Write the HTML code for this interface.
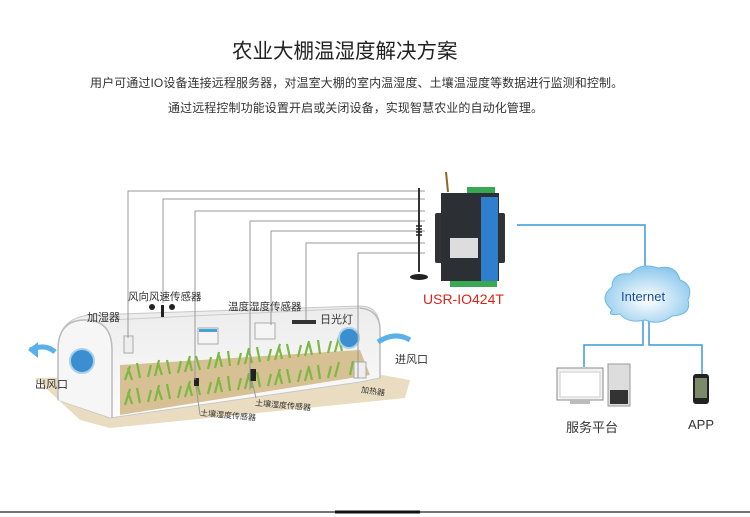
<!DOCTYPE html>
<html><head><meta charset="utf-8"><style>
html,body{margin:0;padding:0;background:#fff;}
body{width:750px;height:517px;overflow:hidden;position:relative;font-family:"Liberation Sans","Noto Sans CJK SC",sans-serif;}
.t{position:absolute;white-space:nowrap;color:#333;}
</style></head><body>
<div class="t" style="left:232px;top:34px;font-size:20.5px;color:#222;">农业大棚温湿度解决方案</div>
<div class="t" style="left:90px;top:74px;font-size:12px;letter-spacing:0.1px;">用户可通过IO设备连接远程服务器，对温室大棚的室内温湿度、土壤温湿度等数据进行监测和控制。</div>
<div class="t" style="left:168px;top:99px;font-size:12px;letter-spacing:0.1px;">通过远程控制功能设置开启或关闭设备，实现智慧农业的自动化管理。</div>

<svg width="750" height="517" style="position:absolute;left:0;top:0" xmlns="http://www.w3.org/2000/svg">
<defs>
<radialGradient id="cl" cx="50%" cy="60%" r="60%"><stop offset="0" stop-color="#fff"/><stop offset="1" stop-color="#8cc8ec"/></radialGradient>
<linearGradient id="gh" x1="0" y1="0" x2="0" y2="1"><stop offset="0" stop-color="#ececec"/><stop offset="1" stop-color="#fcfcfc"/></linearGradient>
</defs>
<!-- ground -->
<polygon points="35,378 355,370 410,380 405,398 110,428 80,420" fill="#eadcc0"/>
<!-- greenhouse -->
<path d="M58,400 L58,350 Q58,318 90,315 L360,306 Q380,306 380,330 L380,378 L360,382 L110,418 Z" fill="url(#gh)" stroke="#c8c8c8"/>
<path d="M58,400 L58,350 Q58,320 85,320 Q112,320 112,350 L112,418" fill="#f6f6f6" stroke="#bbb" stroke-width="1.5"/>
<path d="M110,320 L360,308" stroke="#ccc" fill="none"/>
<path d="M360,308 Q380,310 380,330 L380,378" fill="none" stroke="#bbb" stroke-width="1.5"/>
<!-- crops -->
<polygon points="120,365 360,350 370,375 120,415" fill="#d6c094"/>
<g stroke="#7cb842" stroke-width="2.2" fill="none">
<path d="M125,380 l5,-14 M132,380 l-4,-12 M140,378 l-3,-15 M148,377 l3,-12 M155,376 l4,-16 M162,375 l-4,-12 M170,374 l-3,-14 M178,373 l3,-12 M185,372 l5,-16 M192,371 l-3,-12 M200,370 l-4,-14 M208,369 l3,-12 M215,368 l4,-16 M222,367 l-3,-12 M230,366 l-2,-15 M238,365 l3,-12 M245,364 l4,-16 M252,363 l-3,-12 M260,362 l-3,-15 M268,361 l3,-12 M275,360 l5,-16 M282,359 l-3,-12 M290,358 l-3,-14 M298,357 l3,-12 M305,356 l4,-15 M312,355 l-3,-12 M320,354 l-2,-14 M328,353 l3,-12 M335,352 l4,-15 M342,351 l-3,-12"/>
<path d="M125,405 l5,-16 M132,404 l-4,-12 M140,403 l-3,-15 M148,402 l3,-12 M155,401 l4,-16 M162,400 l-4,-12 M170,399 l-3,-15 M178,398 l3,-12 M185,397 l5,-16 M192,396 l-3,-12 M200,395 l-4,-15 M208,394 l3,-12 M215,393 l4,-16 M222,392 l-3,-12 M230,391 l-2,-15 M238,390 l3,-12 M245,389 l4,-16 M252,388 l-3,-12 M260,387 l-3,-15 M268,386 l3,-12 M275,385 l5,-16 M282,384 l-3,-12 M290,383 l-3,-14 M298,382 l3,-12 M305,381 l4,-15 M312,380 l-3,-12 M320,379 l-2,-14 M328,378 l3,-12 M335,377 l4,-15 M350,375 l3,-14"/>
</g>
<!-- fans -->
<circle cx="82" cy="361" r="12" fill="#3b8fd0" stroke="#a8d0e8" stroke-width="2"/>
<circle cx="349" cy="338" r="10" fill="#3b8fd0" stroke="#a8d0e8" stroke-width="2"/>
<path d="M55,352 Q45,343 30,350" stroke="#5ab0e8" stroke-width="5" fill="none"/>
<path d="M28,350 L38,342 L38,358 Z" fill="#5ab0e8"/>
<path d="M410,340 Q395,331 378,342" stroke="#5ab0e8" stroke-width="5" fill="none"/>
<!-- devices -->
<rect x="124" y="336" width="9" height="17" fill="#eee" stroke="#aaa"/>
<circle cx="152" cy="307" r="3" fill="#222"/><circle cx="172" cy="307" r="3" fill="#222"/><rect x="161" y="305" width="3" height="12" fill="#222"/>
<rect x="198" y="328" width="20" height="16" fill="#f5f5f5" stroke="#aaa"/><rect x="199" y="329" width="18" height="3" fill="#4aa0dd"/>
<rect x="255" y="323" width="20" height="16" fill="#f5f5f5" stroke="#aaa"/>
<rect x="292" y="320" width="24" height="4" fill="#333"/>
<rect x="354" y="362" width="12" height="16" fill="#eee" stroke="#aaa"/>
<rect x="194" y="378" width="5" height="8" fill="#222"/>
<rect x="250" y="369" width="6" height="12" fill="#222"/>
<!-- wires -->
<g stroke="#999" stroke-width="1" fill="none">
<path d="M425,191 H128 V338"/><path d="M425,199 H163 V303"/><path d="M425,211 H195 V380"/>
<path d="M425,221 H250 V390"/><path d="M425,231 H271 V325"/><path d="M425,243 H306 V320"/><path d="M425,253 H358 V378"/>
<path d="M196,386 L200,415"/><path d="M252,381 L256,398"/>
</g>
<!-- antenna -->
<line x1="419" y1="188" x2="419" y2="272" stroke="#333" stroke-width="2"/>
<path d="M416,226 h6 M416,229 h6 M416,232 h6 M416,235 h6" stroke="#222" stroke-width="1.5"/>
<ellipse cx="419" cy="277" rx="9" ry="3" fill="#222"/>
<!-- IO device -->
<rect x="467" y="187" width="28" height="7" fill="#3aa853"/>
<rect x="450" y="280" width="47" height="7" fill="#3aa853"/>
<line x1="448" y1="192" x2="446" y2="172" stroke="#8a6a2a" stroke-width="2"/>
<rect x="435" y="213" width="8" height="50" rx="2" fill="#333"/><rect x="497" y="213" width="8" height="50" rx="2" fill="#333"/>
<rect x="441" y="193" width="58" height="88" fill="#2c2f33"/>
<rect x="481" y="197" width="17" height="84" fill="#2f7fcf"/>
<rect x="450" y="238" width="28" height="20" fill="#ddd"/>
<!-- network -->
<g stroke="#3a9ad9" stroke-width="1.5" fill="none">
<path d="M517,225 H645 V272"/><path d="M643,318 V345 H584 V367"/><path d="M649,318 V345 H702 V375"/>
</g>
<path d="M612,310 Q598,298 612,287 Q612,272 630,274 Q640,262 658,268 Q676,264 680,280 Q694,285 688,300 Q692,315 672,316 Q660,326 645,320 Q628,324 620,314 Q606,316 612,310 Z" fill="url(#cl)" stroke="#6ab8e6"/>
<rect x="557" y="368" width="46" height="32" fill="#f3f3f3" stroke="#888"/><rect x="560" y="372" width="40" height="25" fill="#fff" stroke="#ccc"/>
<rect x="570" y="400" width="20" height="4" fill="#bbb"/>
<rect x="608" y="364" width="22" height="42" fill="#ddd" stroke="#999"/><rect x="610" y="390" width="18" height="14" fill="#333"/>
<rect x="693" y="374" width="16" height="30" rx="3" fill="#222"/><rect x="695" y="378" width="12" height="20" fill="#7a8a6a"/>
<!-- bottom rule -->
<line x1="0" y1="512" x2="750" y2="512" stroke="#222" stroke-width="1.2"/>
<rect x="335" y="510.5" width="85" height="3" fill="#111"/>
</svg>

<div class="t" style="left:128px;top:289px;font-size:10.5px;">风向风速传感器</div>
<div class="t" style="left:87px;top:309px;font-size:11px;">加湿器</div>
<div class="t" style="left:228px;top:299px;font-size:10.5px;">温度湿度传感器</div>
<div class="t" style="left:320px;top:311px;font-size:11px;">日光灯</div>
<div class="t" style="left:395px;top:351px;font-size:11px;">进风口</div>
<div class="t" style="left:35px;top:376px;font-size:11px;">出风口</div>
<div class="t" style="left:361px;top:386px;font-size:8px;transform:rotate(8deg);">加热器</div>
<div class="t" style="left:255px;top:400px;font-size:8px;transform:rotate(5deg);">土壤湿度传感器</div>
<div class="t" style="left:200px;top:410px;font-size:8px;transform:rotate(5deg);">土壤湿度传感器</div>
<div class="t" style="left:423px;top:291px;font-size:14px;color:#d9261c;">USR-IO424T</div>
<div class="t" style="left:621px;top:289px;font-size:13px;color:#1a4fa0;">Internet</div>
<div class="t" style="left:566px;top:417px;font-size:13px;">服务平台</div>
<div class="t" style="left:688px;top:417px;font-size:13px;">APP</div>
</body></html>
